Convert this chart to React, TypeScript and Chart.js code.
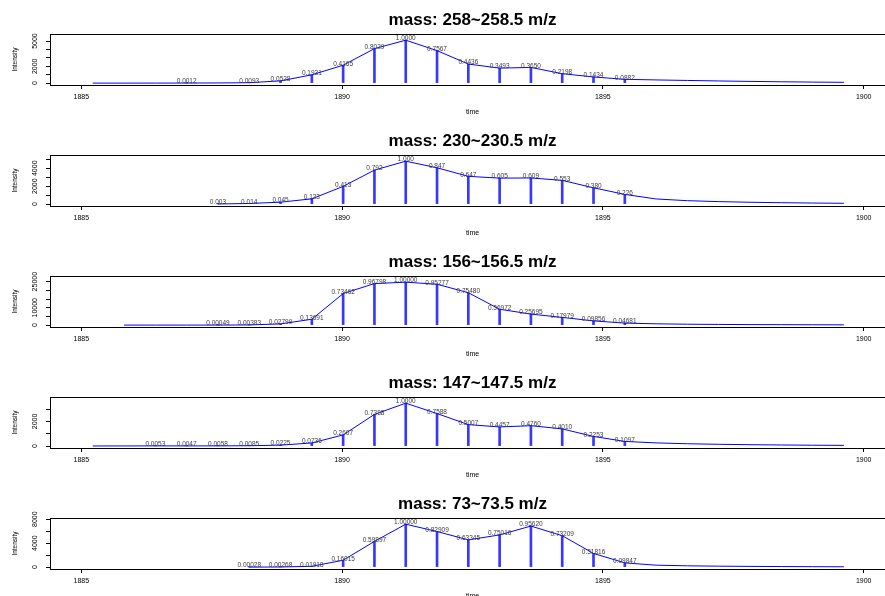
import React, { useEffect, useRef } from "react";
import { Chart, registerables } from "chart.js";

Chart.register(...registerables);

const FONT = "'Liberation Sans', Arial, Helvetica, sans-serif";

// Scan times (s) shared by every extracted-ion trace
const scanTimes = [
  1885.22, 1885.82, 1886.42, 1887.02, 1887.62, 1888.22, 1888.82, 1889.42,
  1890.02, 1890.62, 1891.22, 1891.82, 1892.42, 1893.02, 1893.62, 1894.22,
  1894.82, 1895.42, 1896.02, 1896.62, 1897.22, 1897.82, 1898.42, 1899.02,
  1899.62,
];

const timeTicks = [1885, 1890, 1895, 1900];

// m/z 258 – relative intensity per scan (1 = apex)
const mz258Title = "mass: 258~258.5 m/z";
const mz258Apex = 5100;
const mz258Rel = [
  0.0002, 0.0003, 0.0006, 0.0012, 0.004, 0.0093, 0.0528, 0.1931, 0.4165,
  0.8029, 1.0, 0.7567, 0.4436, 0.3493, 0.365, 0.2198, 0.1434, 0.0882, 0.074,
  0.062, 0.05, 0.04, 0.031, 0.024, 0.018,
];
const mz258Sticks = [3, 5, 6, 7, 8, 9, 10, 11, 12, 13, 14, 15, 16, 17];
const mz258Digits = 4;
const mz258YTicks = [0, 1000, 2000, 3000, 4000, 5000];
const mz258YText = [0, 2000, 5000];

// m/z 230
const mz230Title = "mass: 230~230.5 m/z";
const mz230Apex = 4790;
const mz230Rel = [
  null, null, null, null, 0.003, 0.014, 0.045, 0.123, 0.413, 0.792, 1.0,
  0.847, 0.647, 0.605, 0.609, 0.553, 0.38, 0.226, 0.12, 0.08, 0.058, 0.043,
  0.033, 0.025, 0.019,
];
const mz230Sticks = [4, 5, 6, 7, 8, 9, 10, 11, 12, 13, 14, 15, 16, 17];
const mz230Digits = 3;
const mz230YTicks = [0, 1000, 2000, 3000, 4000, 5000];
const mz230YText = [0, 2000, 4000];

// m/z 156
const mz156Title = "mass: 156~156.5 m/z";
const mz156Apex = 24700;
const mz156Rel = [
  null, 0.00005, 0.0001, 0.0002, 0.00049, 0.00383, 0.02799, 0.13691,
  0.73462, 0.96798, 1.0, 0.95277, 0.7548, 0.36972, 0.25695, 0.17979, 0.09856,
  0.04681, 0.03, 0.021, 0.016, 0.012, 0.01, 0.008, 0.006,
];
const mz156Sticks = [4, 5, 6, 7, 8, 9, 10, 11, 12, 13, 14, 15, 16, 17];
const mz156Digits = 5;
const mz156YTicks = [0, 5000, 10000, 15000, 20000, 25000];
const mz156YText = [0, 10000, 25000];

// m/z 147
const mz147Title = "mass: 147~147.5 m/z";
const mz147Apex = 3480;
const mz147Rel = [
  0.003, 0.004, 0.0053, 0.0047, 0.0058, 0.0085, 0.0225, 0.0736, 0.2607,
  0.7388, 1.0, 0.7588, 0.5007, 0.4457, 0.476, 0.401, 0.2253, 0.1097, 0.075,
  0.055, 0.042, 0.033, 0.026, 0.021, 0.017,
];
const mz147Sticks = [2, 3, 4, 5, 6, 7, 8, 9, 10, 11, 12, 13, 14, 15, 16, 17];
const mz147Digits = 4;
const mz147YTicks = [0, 1000, 2000, 3000];
const mz147YText = [0, 2000];

// m/z 73
const mz73Title = "mass: 73~73.5 m/z";
const mz73Apex = 7170;
const mz73Rel = [
  null, null, null, null, null, 0.00028, 0.00268, 0.01918, 0.16015, 0.59897,
  1.0, 0.82909, 0.63345, 0.75016, 0.9562, 0.73209, 0.31816, 0.09847, 0.045,
  0.03, 0.022, 0.017, 0.013, 0.01, 0.008,
];
const mz73Sticks = [5, 6, 7, 8, 9, 10, 11, 12, 13, 14, 15, 16, 17];
const mz73Digits = 5;
const mz73YTicks = [0, 2000, 4000, 6000, 8000];
const mz73YText = [0, 4000, 8000];

type PanelSpec = {
  title: string;
  apex: number;
  rel: (number | null)[];
  sticks: number[];
  digits: number;
  yTicks: number[];
  yText: number[];
  top: number;
};

const panels: PanelSpec[] = [
  { title: mz258Title, apex: mz258Apex, rel: mz258Rel, sticks: mz258Sticks, digits: mz258Digits, yTicks: mz258YTicks, yText: mz258YText, top: 0 },
  { title: mz230Title, apex: mz230Apex, rel: mz230Rel, sticks: mz230Sticks, digits: mz230Digits, yTicks: mz230YTicks, yText: mz230YText, top: 121 },
  { title: mz156Title, apex: mz156Apex, rel: mz156Rel, sticks: mz156Sticks, digits: mz156Digits, yTicks: mz156YTicks, yText: mz156YText, top: 242 },
  { title: mz147Title, apex: mz147Apex, rel: mz147Rel, sticks: mz147Sticks, digits: mz147Digits, yTicks: mz147YTicks, yText: mz147YText, top: 363 },
  { title: mz73Title, apex: mz73Apex, rel: mz73Rel, sticks: mz73Sticks, digits: mz73Digits, yTicks: mz73YTicks, yText: mz73YText, top: 484 },
];

const CANVAS_W = 895;
const CANVAS_H = 121;

// Box around the plotting region
const framePlugin = {
  id: "frame",
  afterDraw(chart: any) {
    const { ctx, chartArea: a } = chart;
    ctx.save();
    ctx.strokeStyle = "#000";
    ctx.lineWidth = 1;
    ctx.strokeRect(
      Math.round(a.left) + 0.5,
      Math.round(a.top) + 0.5,
      Math.round(a.right - a.left),
      Math.round(a.bottom - a.top)
    );
    ctx.restore();
  },
};

// Relative-intensity text above each stick
const stickTextPlugin = {
  id: "stickText",
  afterDatasetsDraw(chart: any) {
    const { ctx } = chart;
    chart.data.datasets.forEach((ds: any, i: number) => {
      if (!ds.stickText) return;
      const meta = chart.getDatasetMeta(i);
      ctx.save();
      ctx.font = `6.5px ${FONT}`;
      ctx.fillStyle = "#3a3a3a";
      ctx.textAlign = "center";
      ctx.textBaseline = "middle";
      meta.data.forEach((el: any, j: number) => {
        ctx.fillText(ds.stickText[j], el.x, el.y - 1.5);
      });
      ctx.restore();
    });
  },
};

// Intensity tick labels written parallel to the axis
const yTickTextPlugin = {
  id: "yTickText",
  afterDraw(chart: any, _args: any, opts: any) {
    const { ctx } = chart;
    const y = chart.scales.y;
    ctx.save();
    ctx.font = `7px ${FONT}`;
    ctx.fillStyle = "#000";
    ctx.textAlign = "center";
    ctx.textBaseline = "middle";
    (opts.values || []).forEach((v: number) => {
      ctx.save();
      ctx.translate(35, y.getPixelForValue(v));
      ctx.rotate(-Math.PI / 2);
      ctx.fillText(String(v), 0, 0);
      ctx.restore();
    });
    ctx.restore();
  },
};

function Panel({ spec }: { spec: PanelSpec }) {
  const ref = useRef<HTMLCanvasElement | null>(null);

  useEffect(() => {
    if (!ref.current) return;
    const trace = scanTimes
      .map((t, i) => ({ x: t, rel: spec.rel[i] }))
      .filter((p) => p.rel !== null)
      .map((p) => ({ x: p.x, y: (p.rel as number) * spec.apex }));
    const sticks = spec.sticks.map((i) => ({
      x: scanTimes[i],
      y: (spec.rel[i] as number) * spec.apex,
    }));
    const stickText = spec.sticks.map((i) =>
      (spec.rel[i] as number).toFixed(spec.digits)
    );

    const chart = new Chart(ref.current, {
      type: "bar",
      data: {
        datasets: [
          {
            type: "line",
            data: trace,
            borderColor: "#0000ff",
            borderWidth: 1,
            pointRadius: 0,
            tension: 0,
            fill: false,
            order: 1,
          } as any,
          {
            type: "bar",
            data: sticks,
            backgroundColor: "rgba(20,20,255,0.85)",
            borderWidth: 0,
            barThickness: 2,
            grouped: false,
            stickText,
            order: 2,
          } as any,
        ],
      },
      options: {
        responsive: false,
        maintainAspectRatio: false,
        animation: false,
        events: [],
        layout: { padding: 0 },
        plugins: {
          legend: { display: false },
          tooltip: { enabled: false },
          title: {
            display: true,
            text: spec.title,
            fullSize: false,
            color: "#000",
            font: { family: FONT, size: 17, weight: "bold", lineHeight: 1.2 },
            padding: { top: 9.8, bottom: 3.8 },
          },
          yTickText: { values: spec.yText },
        } as any,
        scales: {
          x: {
            type: "linear",
            min: 1884.4,
            max: 1900.6,
            offset: false,
            afterBuildTicks: (s: any) => {
              s.ticks = timeTicks.map((v) => ({ value: v }));
            },
            afterFit: (s: any) => {
              s.height = 36;
            },
            grid: {
              display: true,
              offset: false,
              drawOnChartArea: false,
              drawTicks: true,
              tickLength: 4,
              color: "#000",
              tickColor: "#000",
            },
            border: { display: false },
            ticks: {
              autoSkip: false,
              maxRotation: 0,
              padding: 4.1,
              color: "#000",
              font: { family: FONT, size: 7 },
              callback: (v: any) => String(v),
            },
            title: {
              display: true,
              text: "time",
              color: "#000",
              font: { family: FONT, size: 7, lineHeight: 1.2 },
              padding: { top: 0, bottom: 5.1 },
            },
          },
          y: {
            type: "linear",
            min: -0.044 * spec.apex,
            max: 1.144 * spec.apex,
            afterBuildTicks: (s: any) => {
              s.ticks = spec.yTicks.map((v) => ({ value: v }));
            },
            afterFit: (s: any) => {
              s.width = 50;
            },
            grid: {
              display: true,
              drawOnChartArea: false,
              drawTicks: true,
              tickLength: 4,
              color: "#000",
              tickColor: "#000",
            },
            border: { display: false },
            ticks: { display: false },
            title: {
              display: true,
              text: "Intensity",
              color: "#000",
              font: { family: FONT, size: 6.5, lineHeight: 1.2 },
              padding: { top: 11.1, bottom: 0 },
            },
          },
        },
      },
      plugins: [framePlugin, stickTextPlugin, yTickTextPlugin],
    });
    return () => chart.destroy();
  }, [spec]);

  return (
    <canvas
      ref={ref}
      width={CANVAS_W}
      height={CANVAS_H}
      style={{
        position: "absolute",
        left: 0,
        top: spec.top,
        width: CANVAS_W,
        height: CANVAS_H,
      }}
    />
  );
}

export default function App() {
  return (
    <div
      style={{
        position: "fixed",
        left: 0,
        top: 0,
        width: 885,
        height: 596,
        overflow: "hidden",
        background: "#fff",
      }}
    >
      {panels.map((p) => (
        <Panel key={p.title} spec={p} />
      ))}
    </div>
  );
}
